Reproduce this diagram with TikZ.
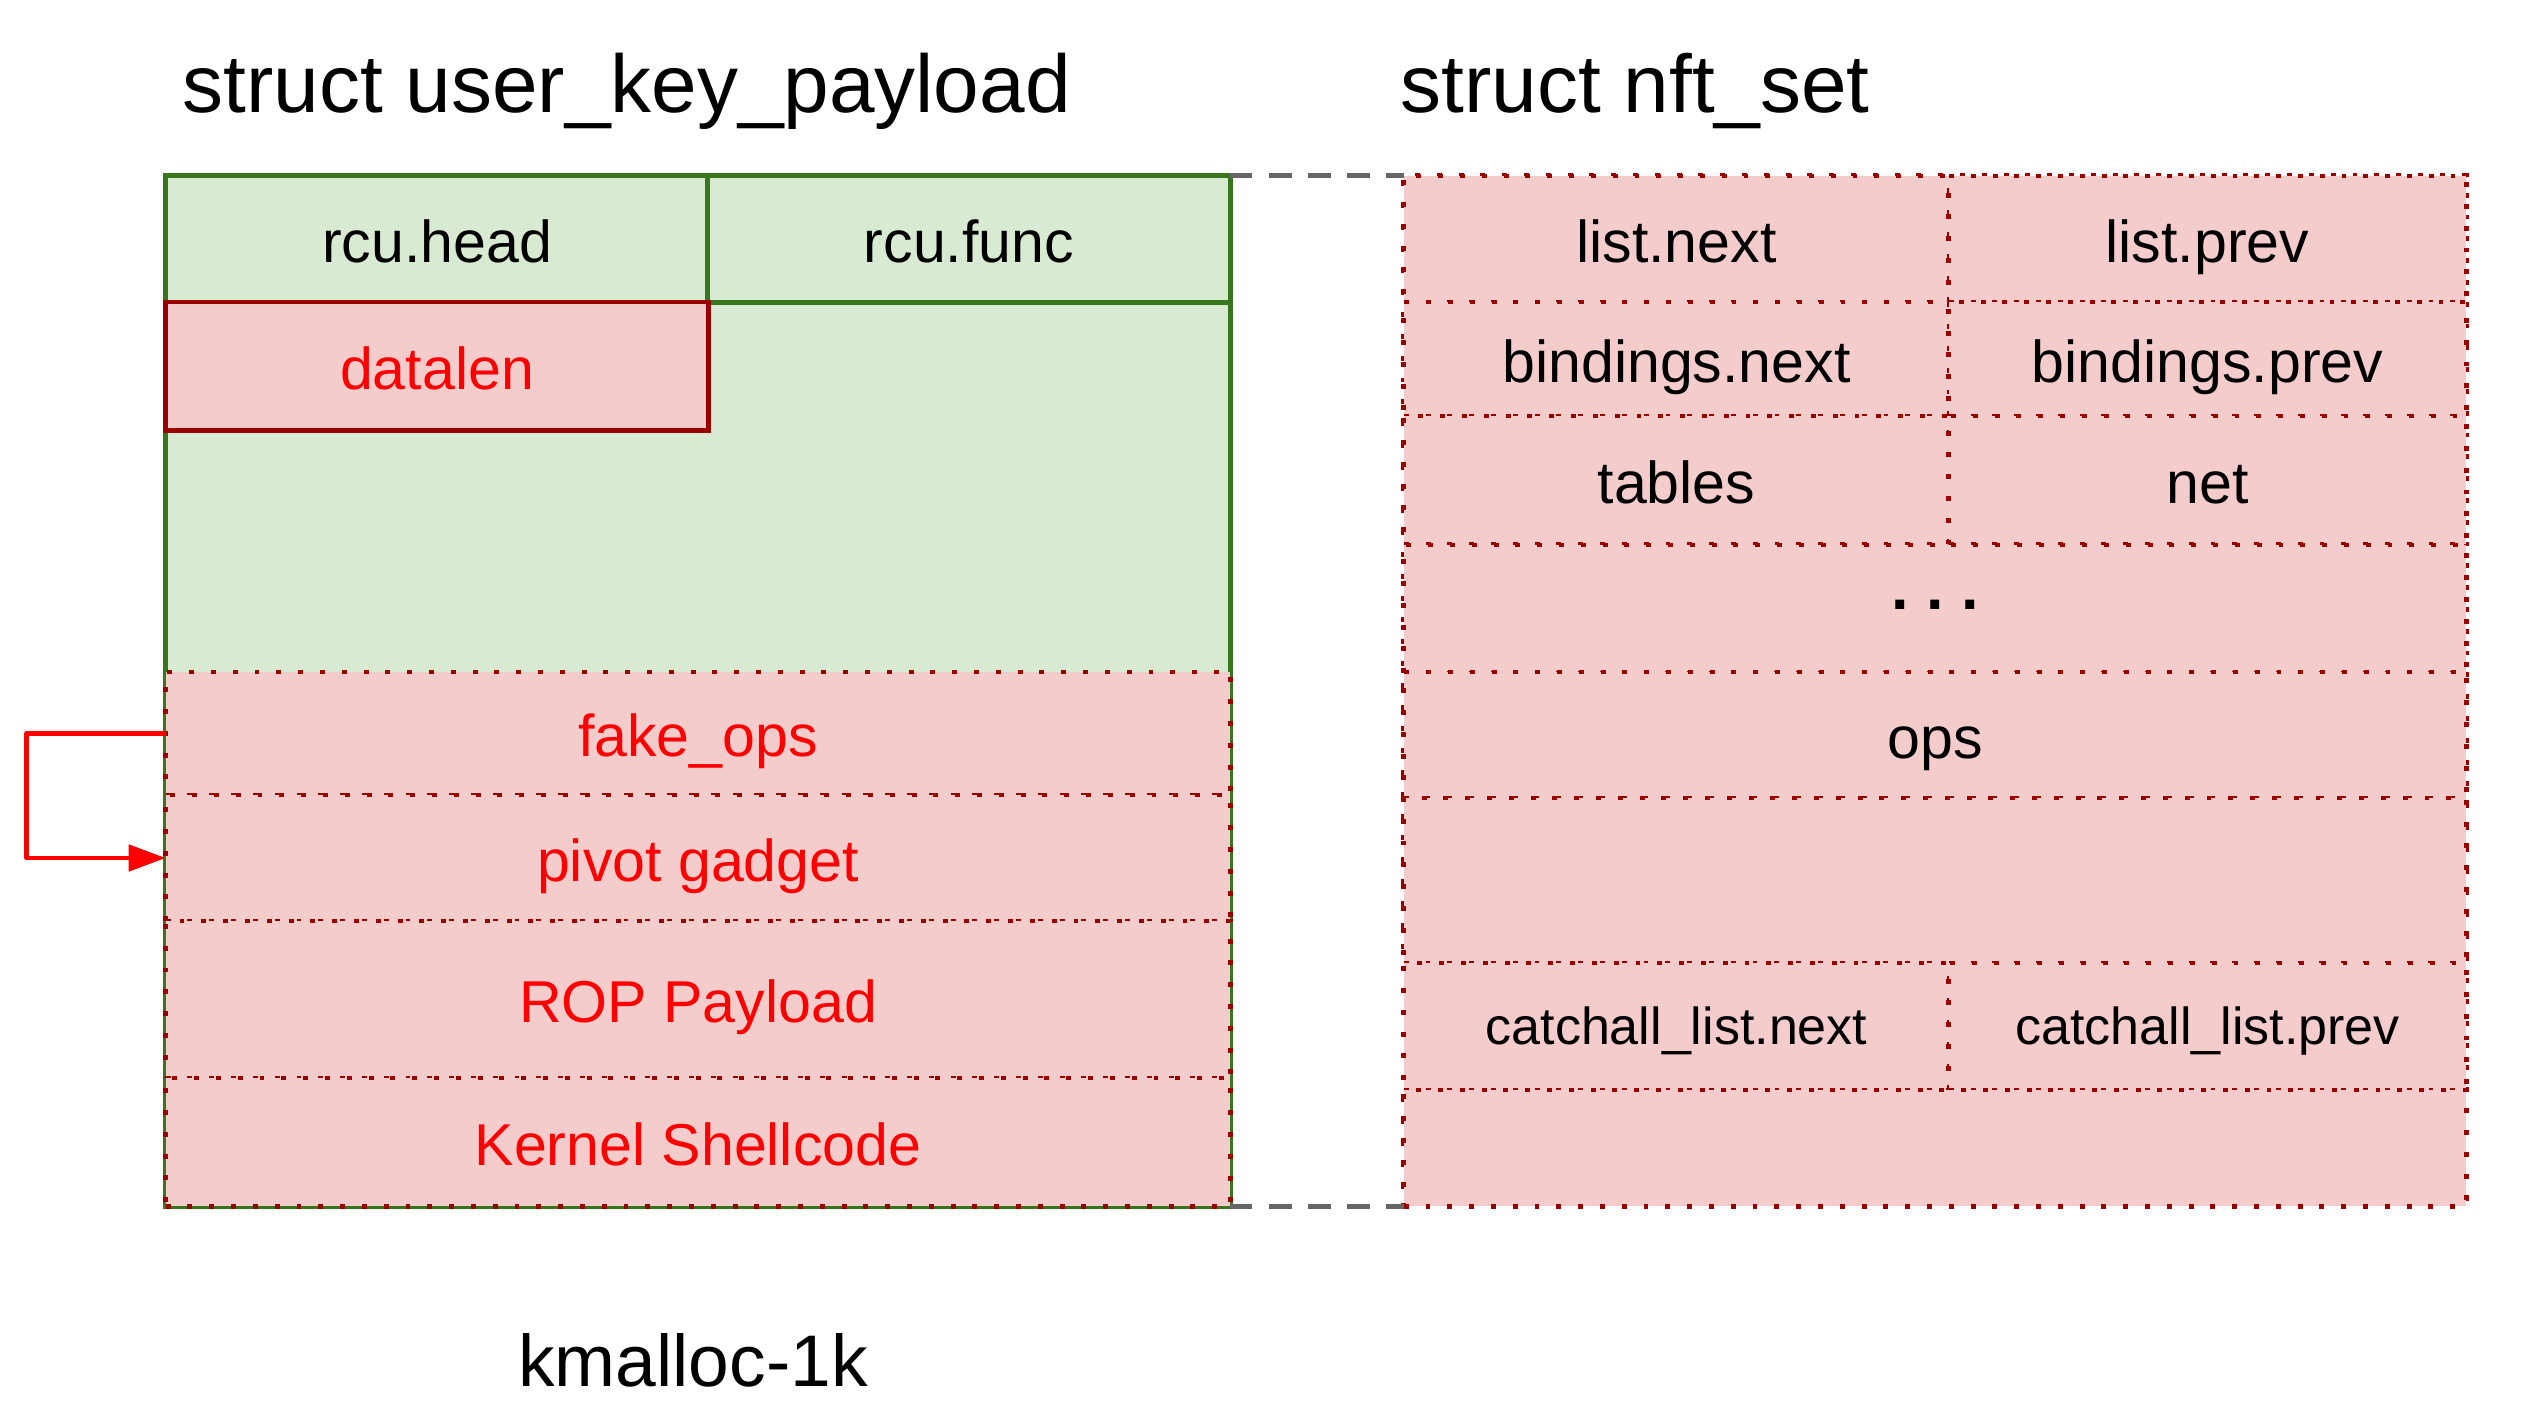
\documentclass[tikz,border=0pt]{standalone}
\usepackage{fontspec}
\setmainfont{Liberation Sans}
\usetikzlibrary{arrows.meta,positioning}
\definecolor{keygreen}{HTML}{D9EAD3}
\definecolor{linegreen}{HTML}{38761D}
\definecolor{setpink}{HTML}{F4CCCC}
\definecolor{darkred}{HTML}{990000}
\definecolor{linkgray}{HTML}{666666}

\begin{document}
\begin{tikzpicture}[
  x=0.01cm, y=-0.01cm,
  font=\fontsize{16.8pt}{20pt}\selectfont,
  >={Triangle[length=3.7mm,width=2.6mm]},
  field/.style={rectangle, inner sep=0pt, outer sep=0pt, text height=13.1pt, text depth=0pt},
  keybox/.style={field, fill=keygreen, draw=linegreen, line width=1.4pt},
  rcufield/.style={field, fill=keygreen, draw=linegreen, line width=1.4pt},
  lenfield/.style={field, fill=setpink, draw=darkred, line width=1.4pt, text=red},
  dotted red/.style={fill=setpink, draw=darkred, line width=1.4pt, dash pattern=on 1.4pt off 4.8pt},
  fakefield/.style={field, dotted red, text=red},
  setfield/.style={field, dotted red},
  smallfield/.style={setfield, text height=10.5pt, font=\fontsize{14.8pt}{18pt}\selectfont},
  title/.style={inner sep=0pt, font=\fontsize{23.3pt}{28pt}\selectfont},
  link/.style={draw=linkgray, line width=1.4pt, dash pattern=on 6.3pt off 4.8pt}
]
\useasboundingbox (0,0) rectangle (2521,1421);

% titles
\node[title, anchor=base west] (ukptitle) at (182,112) {struct user\_key\_payload};
\node[title, anchor=base west] (nfttitle) at (1400,112) {struct nft\_set};
\node[title, anchor=base, font=\fontsize{20.8pt}{25pt}\selectfont] (cache) at (693,1386) {kmalloc-1k};

% struct user_key_payload
\node[keybox, minimum width=10.64cm, minimum height=10.30cm] (ukp) at (698,691) {};
\node[fakefield, minimum width=10.64cm, minimum height=1.23cm] (fake) at (698,733.5) {fake\_ops};
\node[fakefield, minimum width=10.64cm, minimum height=1.26cm] (pivot) at (698,858) {pivot gadget};
\node[fakefield, minimum width=10.64cm, minimum height=1.57cm] (rop) at (698,999.5) {ROP Payload};
\node[fakefield, minimum width=10.64cm, minimum height=1.28cm] (shell) at (698,1142) {Kernel Shellcode};
\node[rcufield, minimum width=5.42cm, minimum height=1.26cm] (rcuhead) at (437,239) {rcu.head};
\node[rcufield, minimum width=5.22cm, minimum height=1.26cm] (rcufunc) at (969,239) {rcu.func};
\node[lenfield, minimum width=5.42cm, minimum height=1.28cm] (datalen) at (437,366) {datalen};

% struct nft_set
\node[setfield, minimum width=10.62cm, minimum height=10.30cm] (nft) at (1935,691) {};
\node[setfield, minimum width=5.45cm, minimum height=1.26cm] (listnext) at (1676.5,239) {list.next};
\node[setfield, minimum width=5.17cm, minimum height=1.26cm] (listprev) at (2207.5,239) {list.prev};
\node[setfield, minimum width=5.45cm, minimum height=1.14cm] (bindnext) at (1676.5,359) {bindings.next};
\node[setfield, minimum width=5.17cm, minimum height=1.14cm] (bindprev) at (2207.5,359) {bindings.prev};
\node[setfield, minimum width=5.45cm, minimum height=1.28cm] (tables) at (1676.5,480) {tables};
\node[setfield, minimum width=5.17cm, minimum height=1.28cm] (net) at (2207.5,480) {net};
\node[setfield, minimum width=10.62cm, minimum height=1.28cm, text height=0pt,
  font=\bfseries\fontsize{17.9pt}{20pt}\selectfont] (more) at (1935,609) {.\ .\ .};
\node[setfield, minimum width=10.62cm, minimum height=1.26cm] (ops) at (1935,735) {ops};
\node[setfield, minimum width=10.62cm, minimum height=1.65cm] (pad) at (1935,880.5) {};
\node[smallfield, minimum width=5.45cm, minimum height=1.27cm] (catchnext) at (1676.5,1026.5) {catchall\_list.next};
\node[smallfield, minimum width=5.17cm, minimum height=1.27cm] (catchprev) at (2207.5,1026.5) {catchall\_list.prev};
\node[setfield, minimum width=10.62cm, minimum height=1.16cm] (tail) at (1935,1148) {};

% same slot
\draw[link] (ukp.north east) -- (nft.north west);
\draw[link] (ukp.south east) -- (nft.south west);

\draw[->, red, line width=1.4pt, line join=round] (fake.west) -- ++(-139,0) |- (pivot.west);

\end{tikzpicture}
\end{document}
